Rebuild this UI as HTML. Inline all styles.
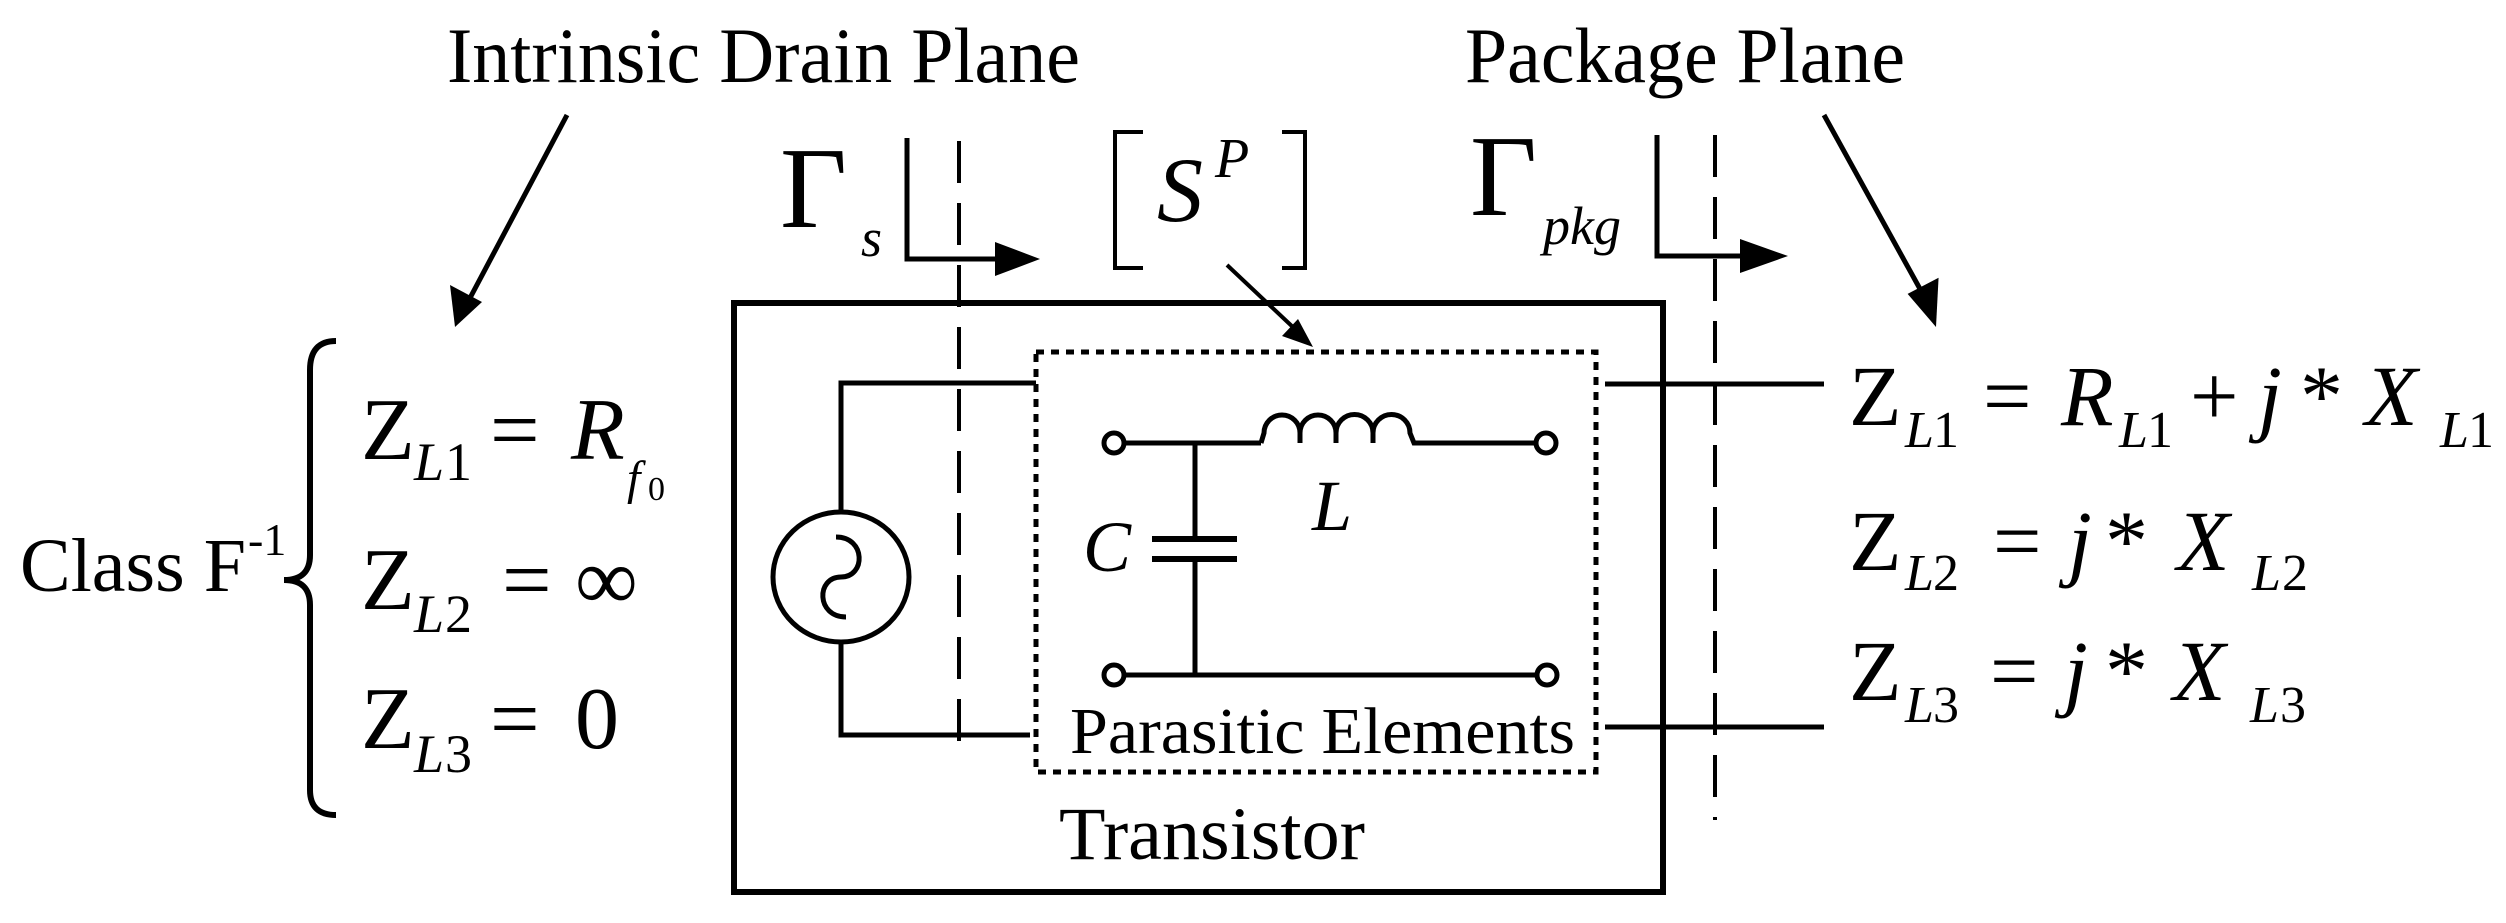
<!DOCTYPE html>
<html><head><meta charset="utf-8"><style>
html,body{margin:0;padding:0;background:#fff}
svg{display:block}
text{font-family:"Liberation Serif",serif;fill:#000}
.i{font-style:italic}
</style></head><body>
<svg width="2506" height="923" viewBox="0 0 2506 923" xmlns="http://www.w3.org/2000/svg">
<defs>
<marker id="ah" markerWidth="10" markerHeight="10" refX="9" refY="5" orient="auto" markerUnits="userSpaceOnUse" viewBox="0 0 10 10">
</marker>
</defs>
<g stroke="#000" fill="none" stroke-linecap="butt">
<!-- top labels -->
</g>
<text x="447" y="82" font-size="78" textLength="633" lengthAdjust="spacingAndGlyphs">Intrinsic Drain Plane</text>
<text x="1465" y="82" font-size="78" textLength="440" lengthAdjust="spacingAndGlyphs">Package Plane</text>

<!-- diagonal arrows -->
<line x1="567" y1="115" x2="470" y2="298" stroke="#000" stroke-width="5"/>
<polygon points="455,327 450,285 482,302" fill="#000"/>
<line x1="1824" y1="115" x2="1925" y2="298" stroke="#000" stroke-width="5"/>
<polygon points="1936,327 1910,292 1942,278" fill="#000" transform="rotate(-4 1936 327)"/>

<!-- brace -->
<path d="M336,341 Q310,341 310,370 L310,555 Q310,580 284,580 Q310,580 310,605 L310,790 Q310,815 336,815" stroke="#000" stroke-width="6" fill="none"/>

<!-- Class F-1 -->
<text x="20" y="591" font-size="76">Class F</text>
<text x="248" y="555" font-size="46">-1</text>

<!-- Left equations -->
<text x="361" y="459" font-size="88">Z</text>
<text x="414" y="480" font-size="54" class="i">L</text><text x="445" y="480" font-size="54">1</text>
<text x="490" y="459" font-size="88">=</text>
<text x="571" y="459" font-size="88" class="i">R</text>
<text x="627" y="494" font-size="48" class="i">f</text><text x="648" y="500" font-size="34">0</text>

<text x="361" y="609" font-size="88">Z</text>
<text x="414" y="632" font-size="54" class="i">L</text><text x="445" y="632" font-size="54">2</text>
<text x="502" y="609" font-size="88">=</text>
<text x="575" y="609" font-size="88">∞</text>

<text x="361" y="748" font-size="88">Z</text>
<text x="414" y="772" font-size="54" class="i">L</text><text x="445" y="772" font-size="54">3</text>
<text x="490" y="748" font-size="88">=</text>
<text x="575" y="748" font-size="88">0</text>

<!-- Gamma s -->
<text x="780" y="227" font-size="116">Γ</text>
<text x="861" y="256" font-size="54" class="i">s</text>
<polyline points="907,138 907,259 1000,259" stroke="#000" stroke-width="5" fill="none"/>
<polygon points="1040,259 995,242 995,276" fill="#000"/>
<line x1="959" y1="141" x2="959" y2="752" stroke="#000" stroke-width="4" stroke-dasharray="42,20"/>
<line x1="945" y1="259" x2="973" y2="259" stroke="#000" stroke-width="4"/>

<!-- S^P bracket -->
<path d="M1143,132 L1115,132 L1115,268 L1143,268" stroke="#000" stroke-width="4" fill="none"/>
<text x="1157" y="221" font-size="92" class="i">S</text>
<text x="1215" y="177" font-size="56" class="i">P</text>
<path d="M1282,132 L1305,132 L1305,268 L1282,268" stroke="#000" stroke-width="4" fill="none"/>
<line x1="1227" y1="265" x2="1296" y2="330" stroke="#000" stroke-width="4"/>
<polygon points="1313,347 1282,336 1298,319" fill="#000"/>

<!-- Gamma pkg -->
<text x="1470" y="215" font-size="116">Γ</text>
<text x="1543" y="244" font-size="54" class="i">pkg</text>
<polyline points="1657,135 1657,256 1745,256" stroke="#000" stroke-width="5" fill="none"/>
<polygon points="1788,256 1740,239 1740,273" fill="#000"/>
<line x1="1715" y1="135" x2="1715" y2="820" stroke="#000" stroke-width="4" stroke-dasharray="42,20"/>

<!-- Transistor box -->
<rect x="734" y="303" width="929" height="589" stroke="#000" stroke-width="6" fill="none"/>
<text x="1059" y="859" font-size="75" textLength="306" lengthAdjust="spacingAndGlyphs">Transistor</text>

<!-- dotted box -->
<rect x="1036" y="352" width="560" height="420" stroke="#000" stroke-width="5" fill="none" stroke-dasharray="8,7"/>
<text x="1070" y="753" font-size="66" textLength="505" lengthAdjust="spacingAndGlyphs">Parasitic Elements</text>

<!-- source -->
<polyline points="1036,383 841,383 841,512" stroke="#000" stroke-width="5" fill="none"/>
<polyline points="841,642 841,735 1030,735" stroke="#000" stroke-width="5" fill="none"/>
<ellipse cx="841" cy="577" rx="68" ry="65" stroke="#000" stroke-width="5" fill="none"/>
<path d="M836,537 C866,537 866,577 841,577 C816,577 816,617 846,617" stroke="#000" stroke-width="5" fill="none"/>
<line x1="945" y1="383" x2="973" y2="383" stroke="#000" stroke-width="0"/>

<!-- inner circuit -->
<g stroke="#000" stroke-width="5" fill="none">
<circle cx="1114" cy="443" r="10"/>
<circle cx="1546" cy="443" r="10"/>
<circle cx="1114" cy="675" r="10"/>
<circle cx="1547" cy="675" r="10"/>
<line x1="1124" y1="443" x2="1261" y2="443"/>
<path d="M1261,443 L1264,433 A18,18 0 0 1 1300,433 L1300,443 M1300,433 A18,18 0 0 1 1336,433 L1336,443 M1336,433 A18,18 0 0 1 1373,433 L1373,443 M1373,433 A18,18 0 0 1 1410,433 L1414,443 L1536,443"/>
<line x1="1195" y1="443" x2="1195" y2="539"/>
<line x1="1195" y1="559" x2="1195" y2="675"/>
<line x1="1152" y1="539" x2="1237" y2="539" stroke-width="6"/>
<line x1="1152" y1="559" x2="1237" y2="559" stroke-width="6"/>
<line x1="1124" y1="675" x2="1537" y2="675"/>
</g>
<text x="1083" y="571" font-size="72" class="i">C</text>
<text x="1312" y="530" font-size="72" class="i">L</text>

<!-- output lines -->
<line x1="1605" y1="384" x2="1824" y2="384" stroke="#000" stroke-width="5"/>
<line x1="1605" y1="727" x2="1824" y2="727" stroke="#000" stroke-width="5"/>

<!-- right equations -->
<text x="1849" y="425" font-size="86">Z</text>
<text x="1905" y="447" font-size="52" class="i">L</text><text x="1933" y="447" font-size="52">1</text>
<text x="1983" y="425" font-size="86">=</text>
<text x="2061" y="425" font-size="86" class="i">R</text>
<text x="2119" y="447" font-size="52" class="i">L</text><text x="2147" y="447" font-size="52">1</text>
<text x="2190" y="425" font-size="86">+</text>
<text x="2258" y="425" font-size="86" class="i">j</text>
<text x="2300" y="425" font-size="86">*</text>
<text x="2365" y="425" font-size="86" class="i">X</text>
<text x="2440" y="447" font-size="52" class="i">L</text><text x="2468" y="447" font-size="52">1</text>

<text x="1849" y="570" font-size="86">Z</text>
<text x="1905" y="590" font-size="52" class="i">L</text><text x="1933" y="590" font-size="52">2</text>
<text x="1993" y="570" font-size="86">=</text>
<text x="2068" y="570" font-size="86" class="i">j</text>
<text x="2105" y="570" font-size="86">*</text>
<text x="2177" y="570" font-size="86" class="i">X</text>
<text x="2252" y="590" font-size="52" class="i">L</text><text x="2282" y="590" font-size="52">2</text>

<text x="1849" y="700" font-size="86">Z</text>
<text x="1905" y="722" font-size="52" class="i">L</text><text x="1933" y="722" font-size="52">3</text>
<text x="1990" y="700" font-size="86">=</text>
<text x="2064" y="700" font-size="86" class="i">j</text>
<text x="2105" y="700" font-size="86">*</text>
<text x="2173" y="700" font-size="86" class="i">X</text>
<text x="2250" y="722" font-size="52" class="i">L</text><text x="2280" y="722" font-size="52">3</text>
</svg>
</body></html>
